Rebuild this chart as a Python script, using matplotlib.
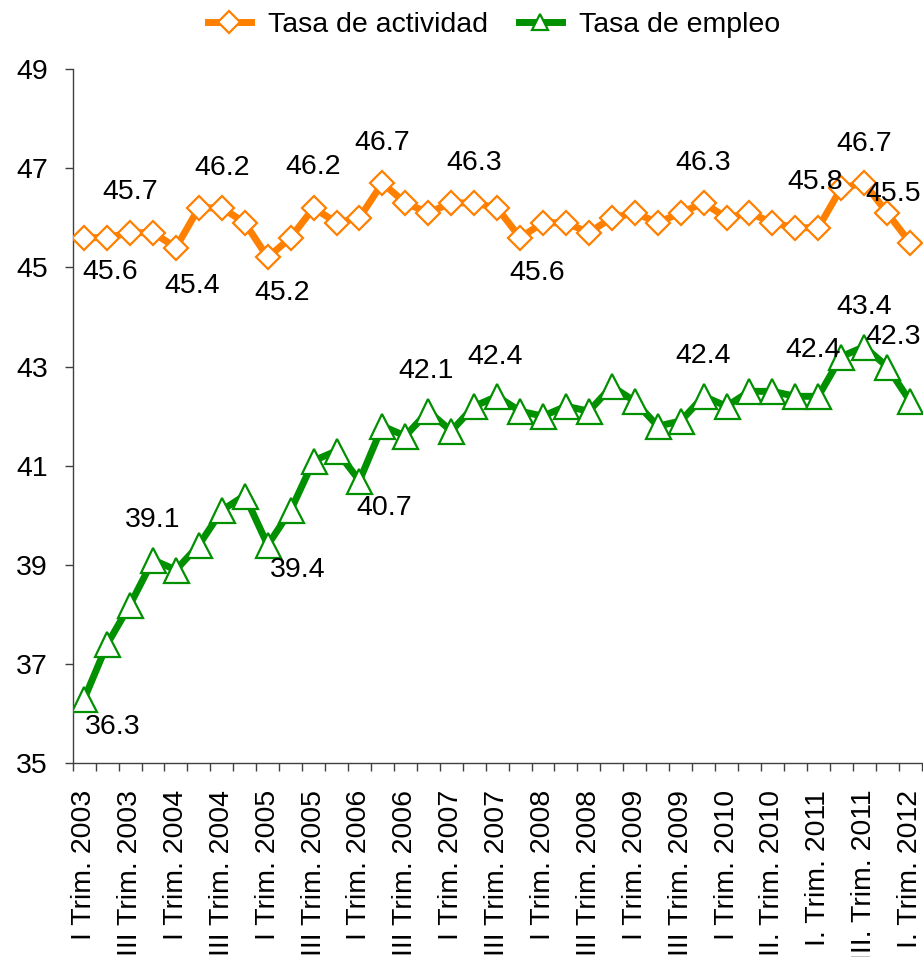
import numpy as np
import matplotlib
matplotlib.use("Agg")
import matplotlib.pyplot as plt
from matplotlib.ticker import FixedLocator

plt.rcParams['font.family'] = ['Liberation Sans', 'DejaVu Sans']
plt.rcParams['font.size'] = 20.5

# quarterly rates, I Trim. 2003 .. I Trim. 2012
actividad = [45.6, 45.6, 45.7, 45.7, 45.4, 46.2, 46.2, 45.9, 45.2, 45.6,
             46.2, 45.9, 46.0, 46.7, 46.3, 46.1, 46.3, 46.3, 46.2, 45.6,
             45.9, 45.9, 45.7, 46.0, 46.1, 45.9, 46.1, 46.3, 46.0, 46.1,
             45.9, 45.8, 45.8, 46.6, 46.7, 46.1, 45.5]
empleo = [36.3, 37.4, 38.2, 39.1, 38.9, 39.4, 40.1, 40.4, 39.4, 40.1,
          41.1, 41.3, 40.7, 41.8, 41.6, 42.1, 41.7, 42.2, 42.4, 42.1,
          42.0, 42.2, 42.1, 42.6, 42.3, 41.8, 41.9, 42.4, 42.2, 42.5,
          42.5, 42.4, 42.4, 43.2, 43.4, 43.0, 42.3]

# labels shown every second quarter
tick_labels = ['I Trim. 2003', 'III Trim. 2003', 'I Trim. 2004', 'III Trim. 2004',
               'I Trim. 2005', 'III Trim. 2005', 'I Trim. 2006', 'III Trim. 2006',
               'I Trim. 2007', 'III Trim. 2007', 'I Trim. 2008', 'III Trim. 2008',
               'I Trim. 2009', 'III Trim. 2009', 'I Trim. 2010', 'II. Trim. 2010',
               'I. Trim. 2011', 'III. Trim. 2011', 'I. Trim. 2012']

# which points get a value label, with offset in pixels (right, down)
lab_act = [(0, 26, 34), (2, 0, -41), (4, 16, 38), (6, 0, -40), (8, 14, 36),
           (10, 0, -41), (13, 0, -40), (17, 0, -40), (19, 17, 35), (27, 0, -40),
           (32, -3, -46), (34, 0, -39), (36, -17, -49)]
lab_emp = [(0, 29, 28), (3, 0, -40), (8, 30, 25), (12, 25, 27), (15, -2, -40),
           (18, -2, -39), (27, 0, -40), (32, -5, -46), (34, 0, -40), (36, -17, -64)]

orange = '#FF8000'
green = '#009000'

fig = plt.figure(figsize=(9.23, 9.57), dpi=100)
ax = fig.add_axes([0.0788, 0.2024, 0.9196, 0.7255])

x = np.arange(len(actividad))
ax.plot(x, actividad, color=orange, lw=5, marker='D', ms=12.5,
        mfc='white', mec=orange, mew=1.6, label='Tasa de actividad', zorder=3)
ax.plot(x, empleo, color=green, lw=5, marker='^', ms=18,
        mfc='white', mec=green, mew=1.6, label='Tasa de empleo', zorder=3)

for i, dx, dy in lab_act:
    ax.annotate(f'{actividad[i]:.1f}', (x[i], actividad[i]), xytext=(dx, -dy),
                textcoords='offset pixels', ha='center', va='center',
                annotation_clip=False, zorder=5)
for i, dx, dy in lab_emp:
    ax.annotate(f'{empleo[i]:.1f}', (x[i], empleo[i]), xytext=(dx, -dy),
                textcoords='offset pixels', ha='center', va='center',
                annotation_clip=False, zorder=5)

ax.set_xlim(-0.5, len(actividad) - 0.5)
ax.set_ylim(35, 49)
ax.set_yticks(np.arange(35, 50, 2))

ax.set_xticks(x[::2])
ax.set_xticklabels(tick_labels, rotation=90)
ax.xaxis.set_minor_locator(FixedLocator(np.arange(-0.5, len(actividad), 1)))
ax.tick_params(axis='x', which='major', length=0, pad=19)
ax.tick_params(axis='x', which='minor', length=6, width=1, color='#404040')
ax.tick_params(axis='y', length=6, width=1, color='#404040', pad=12)

for s in ['top', 'right']:
    ax.spines[s].set_visible(False)
for s in ['left', 'bottom']:
    ax.spines[s].set_color('#404040')
    ax.spines[s].set_linewidth(1)

leg = fig.legend(loc='center', bbox_to_anchor=(494 / 923, 1 - 25 / 957), ncol=2,
                 frameon=False, handlelength=1.5, handletextpad=0.6,
                 columnspacing=1.1)
for h in leg.legend_handles:
    h.set_markersize(11)

fig.savefig('out.png', dpi=100)
